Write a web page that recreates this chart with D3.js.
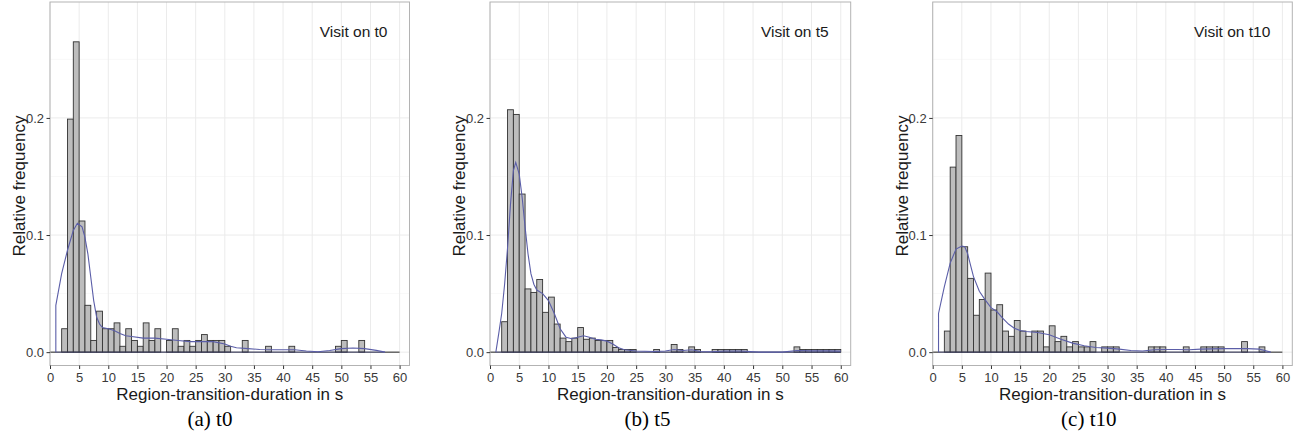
<!DOCTYPE html>
<html><head><meta charset="utf-8">
<script src="https://cdn.jsdelivr.net/npm/d3@7"></script>
<style>body{margin:0;background:#fff}svg{display:block}</style>
</head><body>
<svg id="chart" width="1299" height="442"></svg>
<script>
// ---- data ----
const xTicks = [0,5,10,15,20,25,30,35,40,45,50,55,60];
const yTicks = [0.0,0.1,0.2];
const yTickLabels = ["0.0","0.1","0.2"];
const panelTitles = ["Visit on t0","Visit on t5","Visit on t10"];
const captions = ["(a) t0","(b) t5","(c) t10"];
const xTitle = "Region-transition-duration in s";
const yTitle = "Relative frequency";

// histogram bins (bin start, width 1 s) and relative frequencies
const t0Bins = [2,3,4,5,6,7,8,9,10,11,12,13,14,15,16,17,18,20,21,22,23,24,25,26,27,28,29,30,33,37,41,49,50,53];
const t0Freq = [0.020,0.199,0.265,0.112,0.040,0.010,0.035,0.020,0.020,0.025,0.005,0.020,0.010,0.005,0.025,0.010,0.020,0.010,0.020,0.005,0.010,0.005,0.010,0.015,0.010,0.010,0.010,0.005,0.010,0.005,0.005,0.005,0.010,0.010];

const t5Bins = [2,3,4,5,6,7,8,9,10,11,12,13,14,15,16,17,18,19,20,21,22,23,24,28,31,32,34,35,38,39,40,41,42,43,52,53,54,55,56,57,58,59];
const t5Freq = [0.026,0.207,0.203,0.135,0.054,0.051,0.062,0.034,0.047,0.024,0.012,0.009,0.012,0.021,0.011,0.012,0.010,0.010,0.010,0.004,0.0023,0.0023,0.0023,0.0023,0.0065,0.0023,0.0045,0.0023,0.0023,0.0023,0.0023,0.0023,0.0023,0.0023,0.0045,0.0023,0.0023,0.0023,0.0023,0.0023,0.0023,0.0023];

const t10Bins = [2,3,4,5,6,7,8,9,10,11,12,13,14,15,16,17,18,19,20,21,22,23,24,25,26,27,29,30,31,37,38,39,43,46,47,48,49,53,56];
const t10Freq = [0.018,0.158,0.185,0.090,0.063,0.0315,0.045,0.0675,0.036,0.0405,0.018,0.0135,0.027,0.018,0.0135,0.018,0.018,0.0045,0.0225,0.009,0.0135,0.0045,0.009,0.0045,0.0045,0.009,0.0045,0.0045,0.0045,0.0045,0.0045,0.0045,0.0045,0.0045,0.0045,0.0045,0.0045,0.009,0.0045];

// density curves
const t0DensX = [1,1,2,3,4,4.7,5.5,6,6.5,7,7.5,8,8.5,9,10,11,12,13,14,16,18,20,22,24,26,28,30,31,32,34,36,38,40,42,44,46,48,50,52,54,56,57.5];
const t0DensY = [0,0.040,0.067,0.087,0.104,0.110,0.107,0.098,0.084,0.064,0.044,0.030,0.024,0.021,0.020,0.0185,0.016,0.014,0.0134,0.012,0.012,0.011,0.010,0.009,0.009,0.009,0.007,0.005,0.0037,0.003,0.0023,0.002,0.002,0.002,0.001,0.0003,0.0014,0.003,0.0035,0.003,0.0015,0];

const t5DensX = [1,1.5,2,2.5,3,3.5,4,4.4,5,5.5,6,6.5,7,7.5,8,9,10,11,12,13,14,15,16,17,18,19,20,21,22,23,25,28,30,31.5,33,34.5,36,38,40,43,46,50,52.5,55,58,60];
const t5DensY = [0,0.016,0.033,0.058,0.089,0.126,0.155,0.162,0.152,0.132,0.107,0.084,0.067,0.058,0.053,0.050,0.044,0.033,0.020,0.0128,0.0114,0.0128,0.014,0.0128,0.011,0.0105,0.0094,0.007,0.0037,0.002,0.001,0.0006,0.001,0.0023,0.0014,0.002,0.0006,0.0003,0.001,0.001,0,0,0.0014,0.0011,0.0011,0.0009];

const t10DensX = [1,1,2,3,4,5,5.5,6,6.5,7,8,9,10,11,12,13,14,15,16,18,20,22,24,26,28,30,32,34,36,38,40,42,44,46,48,50,52,54,56,57,58];
const t10DensY = [0,0.033,0.056,0.076,0.088,0.0906,0.090,0.084,0.074,0.0645,0.052,0.0446,0.038,0.0347,0.029,0.024,0.0205,0.0185,0.0176,0.0168,0.0148,0.011,0.0077,0.0054,0.004,0.0034,0.0026,0.0014,0.001,0.002,0.0023,0.0023,0.002,0.0026,0.0028,0.003,0.003,0.003,0.0026,0.0014,0];

// ---- layout ----
const panels = [
  {left:50, right:409.5, capX:210, bins:t0Bins, freq:t0Freq, dx:t0DensX, dy:t0DensY},
  {left:490, right:850.7, capX:647.5, bins:t5Bins, freq:t5Freq, dx:t5DensX, dy:t5DensY},
  {left:932.7, right:1292.3, capX:1088.8, bins:t10Bins, freq:t10Freq, dx:t10DensX, dy:t10DensY}
];
const plotTop = 2, plotBottom = 365.5;
const svg = d3.select("#chart");
const font = "'Liberation Sans', Arial, sans-serif";

panels.forEach((p, i) => {
  const x = d3.scaleLinear().domain([0, 61.7]).range([p.left, p.right]);
  const y = d3.scaleLinear().domain([-0.0114, 0.299]).range([plotBottom, plotTop]);
  const g = svg.append("g");

  // grid
  const minorY = [0.05,0.15,0.25];
  g.selectAll(".ymin").data(minorY).enter().append("line")
    .attr("x1", p.left).attr("x2", p.right)
    .attr("y1", d => y(d)).attr("y2", d => y(d))
    .attr("stroke", "#f4f4f4").attr("stroke-width", 0.6);
  g.selectAll(".ymaj").data(yTicks).enter().append("line")
    .attr("x1", p.left).attr("x2", p.right)
    .attr("y1", d => y(d)).attr("y2", d => y(d))
    .attr("stroke", "#ebebeb").attr("stroke-width", 1);
  g.selectAll(".xmaj").data(xTicks).enter().append("line")
    .attr("x1", d => x(d)).attr("x2", d => x(d))
    .attr("y1", plotTop).attr("y2", plotBottom)
    .attr("stroke", "#ebebeb").attr("stroke-width", 1);

  // bars
  g.selectAll(".bar").data(p.bins.map((b, k) => ({b, v: p.freq[k]}))).enter().append("rect")
    .attr("x", d => x(d.b)).attr("width", d => x(d.b + 1) - x(d.b))
    .attr("y", d => y(d.v)).attr("height", d => y(0) - y(d.v))
    .attr("fill", "#bdbdbd").attr("stroke", "#333").attr("stroke-width", 0.9);

  // baseline
  g.append("line").attr("x1", x(0)).attr("x2", x(60))
    .attr("y1", y(0)).attr("y2", y(0)).attr("stroke", "#222").attr("stroke-width", 1);

  // density
  const pts = p.dx.map((v, k) => [v, p.dy[k]]);
  g.append("path").datum(pts)
    .attr("d", d3.line().x(d => x(d[0])).y(d => y(d[1])).curve(d3.curveLinear))
    .attr("fill", "none").attr("stroke", "#5b5ea8").attr("stroke-width", 1.1);
  g.append("line").attr("x1", x(p.dx[0])).attr("x2", x(p.dx[p.dx.length-1]))
    .attr("y1", y(0)).attr("y2", y(0)).attr("stroke", "#5b5ea8").attr("stroke-width", 0.8).attr("opacity", 0.6);

  // border
  g.append("rect").attr("x", p.left).attr("y", plotTop)
    .attr("width", p.right - p.left).attr("height", plotBottom - plotTop)
    .attr("fill", "none").attr("stroke", "#b3b3b3").attr("stroke-width", 1);

  // axes
  const xa = d3.axisBottom(x).tickValues(xTicks).tickSize(3.5).tickPadding(4).tickFormat(d3.format("d"));
  const xg = g.append("g").attr("transform", `translate(0,${plotBottom})`).call(xa);
  xg.select(".domain").remove();
  xg.selectAll("line").attr("stroke", "#333");
  xg.selectAll("text").attr("font-family", font).attr("font-size", 13).attr("fill", "#3a3a3a");

  const ya = d3.axisLeft(y).tickValues(yTicks).tickSize(3.5).tickPadding(2.5).tickFormat((d, k) => yTickLabels[k]);
  const yg = g.append("g").attr("transform", `translate(${p.left},0)`).call(ya);
  yg.select(".domain").remove();
  yg.selectAll("line").attr("stroke", "#333");
  yg.selectAll("text").attr("font-family", font).attr("font-size", 13).attr("fill", "#3a3a3a");

  // titles
  g.append("text").attr("x", (p.left + p.right) / 2).attr("y", 400)
    .attr("text-anchor", "middle").attr("font-family", font).attr("font-size", 17)
    .attr("fill", "#1a1a1a").text(xTitle);
  g.append("text").attr("transform", `translate(${p.left - 25},186) rotate(-90)`)
    .attr("text-anchor", "middle").attr("font-family", font).attr("font-size", 17)
    .attr("fill", "#1a1a1a").text(yTitle);
  g.append("text").attr("x", p.right - 22).attr("y", 37)
    .attr("text-anchor", "end").attr("font-family", font).attr("font-size", 15.5)
    .attr("fill", "#1a1a1a").text(panelTitles[i]);
  g.append("text").attr("x", p.capX).attr("y", 426)
    .attr("text-anchor", "middle").attr("font-family", "'Liberation Serif', 'Times New Roman', serif")
    .attr("font-size", 21).attr("fill", "#000").text(captions[i]);
});
</script>
</body></html>
